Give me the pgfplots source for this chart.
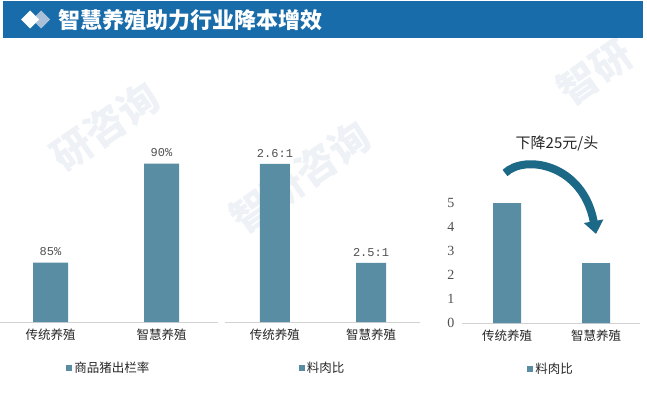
\documentclass[border=0pt]{standalone}
\usepackage{fontspec}
\setmainfont{Noto Sans CJK SC}
\newfontfamily\mono{Liberation Mono}
\newfontfamily\serifnum{Liberation Serif}
\usepackage{pgfplots}
\pgfplotsset{compat=1.18}
\usetikzlibrary{arrows.meta}
\definecolor{barcol}{RGB}{88,141,163}
\definecolor{hdr}{RGB}{24,108,170}
\definecolor{dia}{RGB}{170,192,216}
\definecolor{axgray}{RGB}{210,210,210}
\definecolor{txt}{RGB}{38,38,38}
\definecolor{lbl}{RGB}{80,80,80}
\definecolor{arr}{RGB}{28,104,135}
\definecolor{wm}{RGB}{238,242,247}
\pgfplotsset{
  panel/.style={
    scale only axis, anchor=south west, clip=true,
    axis x line*=bottom, axis y line*=left,
    x axis line style={draw=axgray, line width=0.8pt, -},
    y axis line style={draw=none},
    major tick length=0pt, xtick={0,1},
    xticklabels={传统养殖,智慧养殖},
    xticklabel style={font=\fontsize{12.5}{13}\selectfont, text=txt, yshift=-3pt},
    legend style={draw=none, fill=none, font=\fontsize{12.5}{13}\selectfont, text=txt,
      legend cell align=left, inner sep=0pt},
    legend image code/.code={\fill[barcol] (0pt,-3pt) rectangle (6pt,3pt);},
  },
  lbls/.style={
    ytick=\empty,
    nodes near coords={\pgfplotspointmeta},
    point meta=explicit symbolic,
    nodes near coords style={font=\mono\fontsize{12}{12}\selectfont, text=lbl, yshift=3pt},
  }
}
\begin{document}
\begin{tikzpicture}
\path[use as bounding box] (0pt,0pt) rectangle (647pt,392pt);
% watermark
\begin{scope}[text=wm, font=\fontsize{40}{40}\selectfont\bfseries]
\node[rotate=35] at (105pt,265pt) {研咨询};
\node[rotate=35] at (595pt,320pt) {智研};
\node[rotate=35] at (300pt,215pt) {智研咨询};
\end{scope}
% header
\fill[hdr] (3pt,354pt) rectangle (643pt,391pt);
\fill[dia] (32pt,372.5pt) -- (41pt,381.5pt) -- (50pt,372.5pt) -- (41pt,363.5pt) -- cycle;
\fill[white] (21pt,372.5pt) -- (30pt,381.5pt) -- (39pt,372.5pt) -- (30pt,363.5pt) -- cycle;
\node[anchor=west, text=white, font=\fontsize{22}{22}\selectfont\bfseries, inner sep=0pt] at (58pt,372pt) {智慧养殖助力行业降本增效};

% panel 1
\begin{axis}[panel, lbls, at={(0pt,70pt)}, width=218pt, height=180pt,
  xmin=-0.455, xmax=1.509, ymin=82, ymax=91.09,
  legend style={at={(0.5,-0.256)}, anchor=center}]
\addplot[ybar, bar width=35pt, fill=barcol, draw=none] coordinates {(0,85) [85\%] (1,90) [90\%]};
\addlegendentry{商品猪出栏率}
\end{axis}

% panel 2
\begin{axis}[panel, lbls, at={(225pt,70pt)}, width=195pt, height=180pt,
  xmin=-0.52, xmax=1.51, ymin=2.4404, ymax=2.6222,
  legend style={at={(0.5,-0.256)}, anchor=center}]
\addplot[ybar, bar width=30pt, fill=barcol, draw=none] coordinates {(0,2.6) [2.6:1] (1,2.5) [2.5:1]};
\addlegendentry{料肉比}
\end{axis}

% panel 3
\begin{axis}[panel, at={(462pt,69pt)}, width=178pt, height=132pt,
  xmin=-0.506, xmax=1.494, ymin=0, ymax=5.5,
  ytick={0,1,2,3,4,5}, yticklabels={0,1,2,3,4,5},
  yticklabel style={font=\serifnum\fontsize{14}{14}\selectfont, text=lbl, xshift=-4pt},
  legend style={at={(0.5,-0.348)}, anchor=center}]
\addplot[ybar, bar width=28pt, fill=barcol, draw=none] coordinates {(0,5) (1,2.5)};
\addlegendentry{料肉比}
\end{axis}

% curved arrow
\draw[arr, line width=8pt, -{Triangle[width=19pt,length=13pt]}]
  (505pt,219pt) .. controls (525pt,238pt) and (583pt,228pt) .. (596pt,158pt);
\node[text=txt, font=\fontsize{15}{15}\selectfont] at (557pt,248pt) {下降25元/头};
\end{tikzpicture}
\end{document}
